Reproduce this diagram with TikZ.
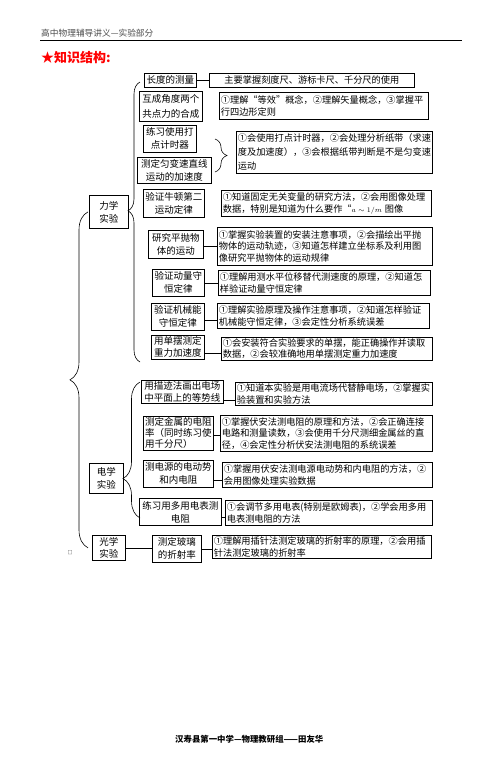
\documentclass[tikz,border=0pt]{standalone}
\usepackage{fontspec}
\setmainfont{Noto Sans CJK SC}
\usetikzlibrary{calc,decorations.pathreplacing}
\newcommand{\topicfont}{\fontsize{9.5}{13}\selectfont}
\newcommand{\notefont}{\fontsize{9.2}{11.5}\selectfont}
\tikzset{
	topic/.style={draw, line width=0.7pt, anchor=north west, inner sep=1pt, align=center, font=\topicfont},
	note/.style={draw, line width=0.7pt, anchor=north west, inner sep=1.5pt, align=left, font=\notefont},
	link/.style={line width=0.6pt},
	curly/.style={decorate, line width=0.6pt},
}
\begin{document}
\begin{tikzpicture}[x=1pt,y=-1pt]
		\useasboundingbox (0,0) rectangle (502,772);
		\node[anchor=west, inner sep=0pt, text=black!70, font=\fontsize{8.7}{10}\selectfont] (head) at (41,33) {高中物理辅导讲义—实验部分};
		\draw[line width=0.8pt] (40,40.5) -- (462,40.5);
		\node[anchor=west, inner sep=0pt, text=red, font=\bfseries\fontsize{13}{15}\selectfont] (title) at (41,58) {★知识结构:};
		% 力学
		\node[topic, minimum width=39, minimum height=33] (lixue) at (89,195) {力学\\实验};
		\node[topic, minimum width=52, minimum height=14] (changdu) at (144,73) {长度的测量};
		\node[note, align=center, text width=202pt, minimum height=14] (changdun) at (209,73) {主要掌握刻度尺、游标卡尺、千分尺的使用};
		\node[topic, minimum width=63, minimum height=30, font=\fontsize{9.5}{15}\selectfont] (hecheng) at (139,91) {互成角度两个\\共点力的合成};
		\node[note, text width=206pt, minimum height=27] (hechengn) at (219,92) {①理解“等效”概念，②理解矢量概念，③掌握平\\行四边形定则};
		\node[topic, minimum width=53, minimum height=27] (dadian) at (143,125) {练习使用打\\点计时器};
		\node[topic, minimum width=74, minimum height=26] (jiasudu) at (137,157) {测定匀变速直线\\运动的加速度};
		\node[note, text width=193pt, minimum height=42, font=\fontsize{9.2}{14}\selectfont] (dadiann) at (236,131) {①会使用打点计时器，②会处理分析纸带（求速\\度及加速度），③会根据纸带判断是不是匀变速\\运动};
		\node[topic, minimum width=61, minimum height=28] (niudun) at (143,189) {验证牛顿第二\\运动定律};
		\node[note, text width=207pt, minimum height=26] (niudunn) at (221,190) {①知道固定无关变量的研究方法，②会用图像处理\\数据，特别是知道为什么要作“{\fontsize{7.5}{8}\selectfont$a\sim1/m$} 图像};
		\node[topic, minimum width=55, minimum height=28] (pingpao) at (148,230) {研究平抛物\\体的运动};
		\node[note, text width=212pt, minimum height=38] (pingpaon) at (217,227) {①掌握实验装置的安装注意事项，②会描绘出平抛\\物体的运动轨迹，③知道怎样建立坐标系及利用图\\像研究平抛物体的运动规律};
		\node[topic, minimum width=52, minimum height=27] (dongliang) at (152,269) {验证动量守\\恒定律};
		\node[note, text width=209pt, minimum height=25] (dongliangn) at (218,270) {①理解用测水平位移替代测速度的原理，②知道怎\\样验证动量守恒定律};
		\node[topic, minimum width=53, minimum height=27] (jixie) at (151,303) {验证机械能\\守恒定律};
		\node[note, text width=209pt, minimum height=25] (jixien) at (217,303) {①理解实验原理及操作注意事项，②知道怎样验证\\机械能守恒定律，③会定性分析系统误差};
		\node[topic, minimum width=53, minimum height=24, font=\fontsize{9.5}{12}\selectfont] (danbai) at (151,335) {用单摆测定\\重力加速度};
		\node[note, text width=208pt, minimum height=21, font=\fontsize{9.2}{11}\selectfont] (danbain) at (221,337) {①会安装符合实验要求的单摆，能正确操作并读取\\数据，②会较准确地用单摆测定重力加速度};
		% 电学
		\node[topic, minimum width=34, minimum height=30] (dianxue) at (89,463) {电学\\实验};
		\node[topic, minimum width=82, minimum height=23, font=\fontsize{9.5}{12}\selectfont] (miaoji) at (141,380) {用描迹法画出电场\\中平面上的等势线};
		\node[note, text width=194pt, minimum height=23] (miaojin) at (235,382) {①知道本实验是用电流场代替静电场，②掌握实\\验装置和实验方法};
		\node[topic, align=left, minimum width=70, minimum height=34, font=\fontsize{9.5}{11}\selectfont] (jinshu) at (143,416) {测定金属的电阻\\率（同时练习使\\用千分尺）};
		\node[note, text width=209pt, minimum height=36] (jinshun) at (220,415) {①掌握伏安法测电阻的原理和方法，②会正确连接\\电路和测量读数，③会使用千分尺测细金属丝的直\\径，④会定性分析伏安法测电阻的系统误差};
		\node[topic, minimum width=70, minimum height=27] (dianyuan) at (143,460) {测电源的电动势\\和内电阻};
		\node[note, text width=207pt, minimum height=25] (dianyuann) at (222,462) {①掌握用伏安法测电源电动势和内电阻的方法，②\\会用图像处理实验数据};
		\node[topic, minimum width=82, minimum height=27] (duoyong) at (139,498) {练习用多用电表测\\电阻};
		\node[note, text width=204pt, minimum height=25] (duoyongn) at (225,500) {①会调节多用电表(特别是欧姆表)，②学会用多用\\电表测电阻的方法};
		% 光学
		\node[topic, minimum width=33, minimum height=25, font=\fontsize{9.5}{12}\selectfont] (guangxue) at (92,535) {光学\\实验};
		\node[topic, minimum width=49, minimum height=27] (boli) at (152,535) {测定玻璃\\的折射率};
		\node[note, text width=216pt, minimum height=23] (bolin) at (212,535) {①理解用插针法测定玻璃的折射率的原理，②会用插\\针法测定玻璃的折射率};
		\node[inner sep=0pt, font=\fontsize{5}{6}\selectfont] (mark) at (70,553) {□};
		\node[anchor=west, inner sep=0pt, font=\bfseries\fontsize{8.4}{10}\selectfont] (foot) at (175,739) {汉寿县第一中学—物理教研组——田友华};
		\draw[link] (changdu.east) -- (changdu.east -| changdun.west);
		\draw[link] ([yshift=-2pt]pingpao.east) -- ([yshift=-2pt]pingpao.east -| pingpaon.west);
		\draw[link] (dongliang.east) -- (dongliang.east -| dongliangn.west);
		\draw[link] ([yshift=-3pt]jixie.east) -- ([yshift=-3pt]jixie.east -| jixien.west);
		\draw[link] ([yshift=-6pt]danbai.east) -- ([yshift=-6pt]danbai.east -| danbain.west);
		\draw[link] ([yshift=-8pt]miaoji.east) -- ([yshift=-8pt]miaoji.east -| miaojin.west);
		\draw[link] ([yshift=-2pt]jinshu.east) -- ([yshift=-2pt]jinshu.east -| jinshun.west);
		\draw[link] ([yshift=-6pt]dianyuan.east) -- ([yshift=-6pt]dianyuan.east -| dianyuann.west);
		\draw[link] ([yshift=-5pt]duoyong.east) -- ([yshift=-5pt]duoyong.east -| duoyongn.west);
		\draw[link] (boli.east) -- (boli.east -| bolin.west);
		\draw[link] (guangxue.east) -- (guangxue.east -| boli.west);
		% braces
		\coordinate (tt) at (215,139);
		\coordinate (tb) at (215,172);
		\draw[curly, decoration={brace, amplitude=12pt, aspect=0.5}] (tt) -- (tb);
		\coordinate (lt) at (140,82);
		\coordinate (lb) at (140,362);
		\draw[curly, decoration={brace, amplitude=12pt, aspect=0.54}] (lb) -- (lt);
		\coordinate (et) at (140,382);
		\coordinate (eb) at (140,518);
		\draw[curly, decoration={brace, amplitude=17pt, aspect=0.29}] (eb) -- (et);
		\draw[curly, decoration={brace, amplitude=18pt, aspect=0.5}] ($(lixue.west |- guangxue.west)+(-1,0)$) -- ($(lixue.west)+(-1,0)$);
\end{tikzpicture}
\end{document}
